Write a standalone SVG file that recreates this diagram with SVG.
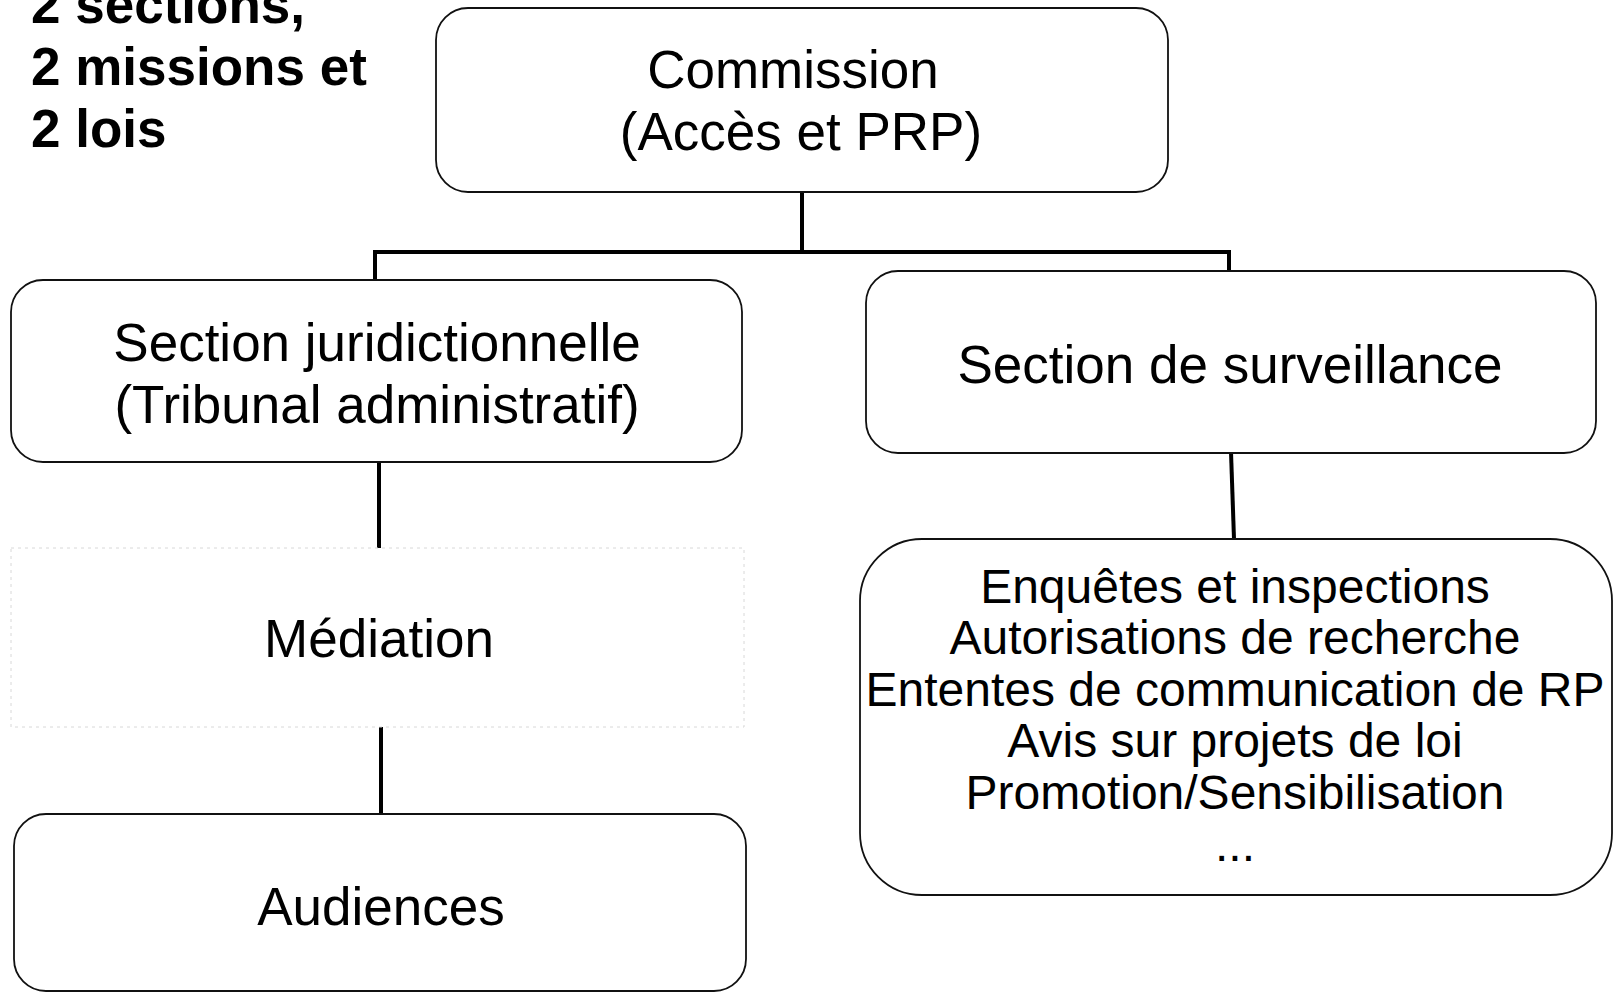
<svg xmlns="http://www.w3.org/2000/svg" width="1618" height="992" viewBox="0 0 1618 992">
<style>
.box{fill:#fff;stroke:#111;stroke-width:1.8}
.ghost{fill:none;stroke:#d8d8d8;stroke-width:1;stroke-dasharray:3 4}
.t{font-family:"Liberation Sans",Arial,sans-serif;font-size:53px;fill:#000;text-anchor:middle}
.l{font-family:"Liberation Sans",Arial,sans-serif;font-size:48px;fill:#000;text-anchor:middle}
.h{font-family:"Liberation Sans",Arial,sans-serif;font-size:53px;font-weight:bold;fill:#000}
.c{fill:none;stroke:#000;stroke-width:4}
</style>
<rect width="1618" height="992" fill="#fff"/>
<g id="title">
<text class="h" x="31" y="23">2 sections,</text>
<text class="h" x="31" y="85">2 missions et</text>
<text class="h" x="31" y="147">2 lois</text>
</g>
<g id="connectors">
<path class="c" d="M802 192 V252"/>
<path class="c" d="M374 252 H1230" stroke-width="5"/>
<path class="c" d="M375 250 V279"/>
<path class="c" d="M1229 250 V271"/>
<path class="c" d="M379 463 V548"/>
<path class="c" d="M381 727 V814"/>
<path class="c" d="M1231 452 L1234 539"/>
</g>
<g id="commission">
<rect class="box" x="436" y="8" width="732" height="184" rx="32"/>
<text class="t" x="793" y="88">Commission</text>
<text class="t" x="801" y="150">(Accès et PRP)</text>
</g>
<g id="section-juridictionnelle">
<rect class="box" x="11" y="280" width="731" height="182" rx="32"/>
<text class="t" x="377" y="361">Section juridictionnelle</text>
<text class="t" x="377" y="423">(Tribunal administratif)</text>
</g>
<g id="section-surveillance">
<rect class="box" x="866" y="271" width="730" height="182" rx="32"/>
<text class="t" x="1230" y="383">Section de surveillance</text>
</g>
<g id="mediation">
<rect class="ghost" x="11" y="548" width="733" height="179"/>
<text class="t" x="379" y="657">Médiation</text>
</g>
<g id="audiences">
<rect class="box" x="14" y="814" width="732" height="177" rx="32"/>
<text class="t" x="381" y="925">Audiences</text>
</g>
<g id="missions">
<rect class="box" x="860" y="539" width="752" height="356" rx="62"/>
<text class="l" x="1235" y="603">Enquêtes et inspections</text>
<text class="l" x="1235" y="654">Autorisations de recherche</text>
<text class="l" x="1235" y="706">Ententes de communication de RP</text>
<text class="l" x="1235" y="757">Avis sur projets de loi</text>
<text class="l" x="1235" y="809">Promotion/Sensibilisation</text>
<text class="l" x="1235" y="861">...</text>
</g>
</svg>
